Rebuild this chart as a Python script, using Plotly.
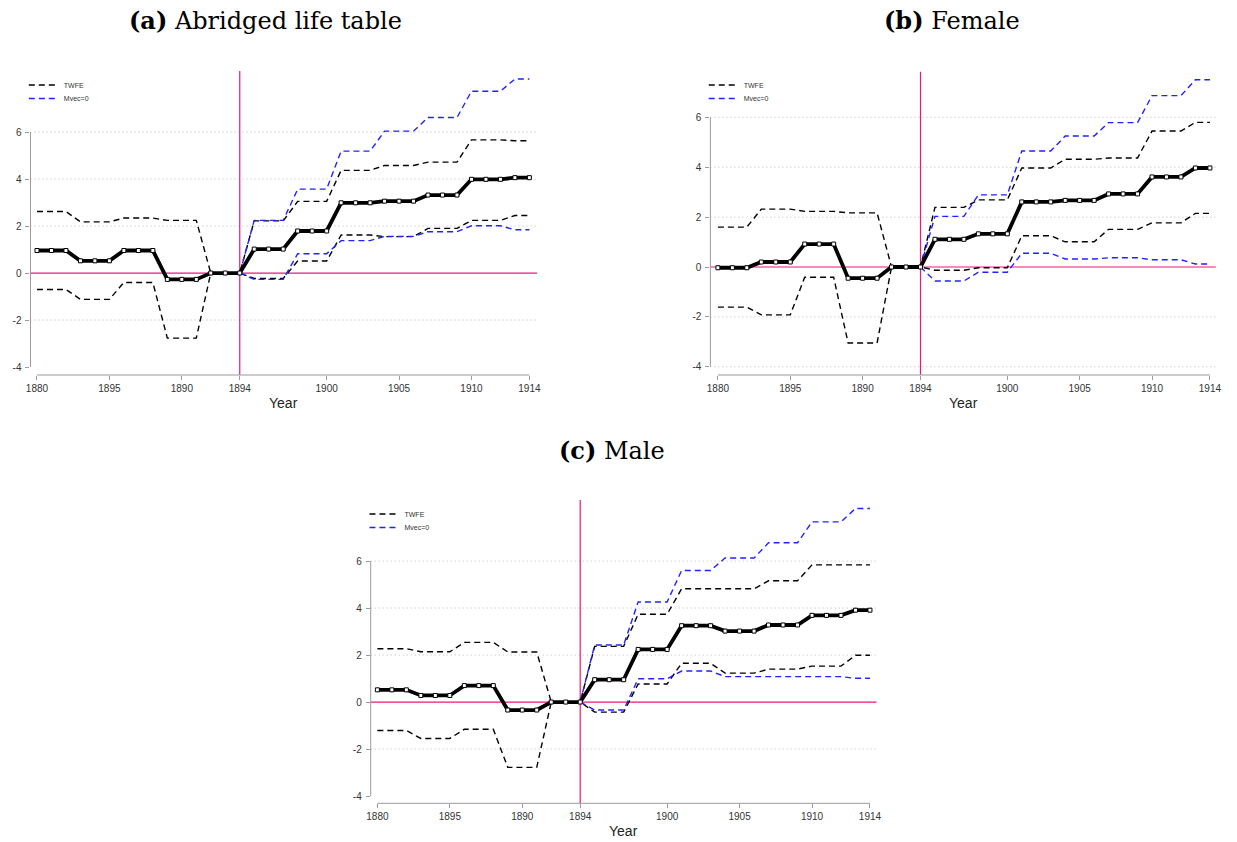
import plotly.graph_objects as go

W, H = 1237, 842

# ---------------- data ----------------
PERIOD = [0, 1, 2, 3, 4, 5, 6, 7, 8, 9, 10, 11, 12, 13, 14, 15, 16, 17, 18, 19,
          20, 21, 22, 23, 24, 25, 26, 27, 28, 29, 30, 31, 32, 33, 34]
MV_PERIOD = [14, 15, 16, 17, 18, 19, 20, 21, 22, 23, 24, 25, 26, 27, 28, 29, 30,
             31, 32, 33, 34]
TICK_POS = [0, 5, 10, 14, 20, 25, 30, 34]
TICK_LABELS = ["1880", "1895", "1890", "1894", "1900", "1905", "1910", "1914"]
Y_TICKS = [-4, -2, 0, 2, 4, 6]
Y_TICK_LABELS = ["-4", "-2", "0", "2", "4", "6"]
TREAT_PERIOD = 14
Y_AXIS_SPAN = [-4, 6]
LEGEND_NAMES = ["TWFE", "Mvec=0"]
X_TITLE = "Year"
TITLES = ["<b>(a)</b> Abridged life table", "<b>(b)</b> Female", "<b>(c)</b> Male"]

# (a) Abridged life table
A_EST = [0.96, 0.96, 0.96, 0.52, 0.52, 0.52, 0.96, 0.96, 0.96, -0.27, -0.27, -0.27,
         0, 0, 0, 1.02, 1.02, 1.02, 1.79, 1.79, 1.79, 2.99, 2.99, 2.99,
         3.06, 3.06, 3.06, 3.32, 3.32, 3.32, 3.99, 3.99, 3.99, 4.06, 4.06]
A_TW_HI = [2.62, 2.62, 2.62, 2.18, 2.18, 2.18, 2.34, 2.34, 2.34, 2.24, 2.24, 2.24,
           0, 0, 0, 2.22, 2.22, 2.22, 3.05, 3.05, 3.05, 4.37, 4.37, 4.37,
           4.58, 4.58, 4.58, 4.72, 4.72, 4.72, 5.67, 5.67, 5.67, 5.63, 5.63]
A_TW_LO = [-0.70, -0.70, -0.70, -1.12, -1.12, -1.12, -0.40, -0.40, -0.40, -2.77, -2.77, -2.77,
           0, 0, 0, -0.23, -0.23, -0.23, 0.51, 0.51, 0.51, 1.62, 1.62, 1.62,
           1.55, 1.55, 1.55, 1.90, 1.90, 1.90, 2.24, 2.24, 2.24, 2.45, 2.45]
A_MV_HI = [0, 2.24, 2.24, 2.24, 3.57, 3.57, 3.57, 5.19, 5.19, 5.19, 6.04, 6.04, 6.04,
           6.62, 6.62, 6.62, 7.74, 7.74, 7.74, 8.26, 8.26]
A_MV_LO = [0, -0.27, -0.27, -0.27, 0.82, 0.82, 0.82, 1.38, 1.38, 1.38, 1.56, 1.56, 1.56,
           1.76, 1.76, 1.76, 2.01, 2.01, 2.01, 1.84, 1.84]

# (b) Female
B_EST = [-0.03, -0.03, -0.03, 0.20, 0.20, 0.20, 0.92, 0.92, 0.92, -0.45, -0.45, -0.45,
         0, 0, 0, 1.11, 1.11, 1.11, 1.33, 1.33, 1.33, 2.61, 2.61, 2.61,
         2.67, 2.67, 2.67, 2.93, 2.93, 2.93, 3.61, 3.61, 3.61, 3.97, 3.97]
B_TW_HI = [1.60, 1.60, 1.60, 2.32, 2.32, 2.32, 2.23, 2.23, 2.23, 2.17, 2.17, 2.17,
           0, 0, 0, 2.39, 2.39, 2.39, 2.69, 2.69, 2.69, 3.97, 3.97, 3.97,
           4.32, 4.32, 4.32, 4.37, 4.37, 4.37, 5.45, 5.45, 5.45, 5.80, 5.80]
B_TW_LO = [-1.61, -1.61, -1.61, -1.92, -1.92, -1.92, -0.41, -0.41, -0.41, -3.05, -3.05, -3.05,
           0, 0, 0, -0.13, -0.13, -0.13, -0.03, -0.03, -0.03, 1.25, 1.25, 1.25,
           1.01, 1.01, 1.01, 1.51, 1.51, 1.51, 1.77, 1.77, 1.77, 2.15, 2.15]
B_MV_HI = [0, 2.03, 2.03, 2.03, 2.89, 2.89, 2.89, 4.65, 4.65, 4.65, 5.25, 5.25, 5.25,
           5.79, 5.79, 5.79, 6.87, 6.87, 6.87, 7.51, 7.51]
B_MV_LO = [0, -0.56, -0.56, -0.56, -0.21, -0.21, -0.21, 0.55, 0.55, 0.55, 0.32, 0.32, 0.32,
           0.37, 0.37, 0.37, 0.29, 0.29, 0.29, 0.12, 0.12]

# (c) Male
C_EST = [0.52, 0.52, 0.52, 0.28, 0.28, 0.28, 0.70, 0.70, 0.70, -0.34, -0.34, -0.34,
         0, 0, 0, 0.95, 0.95, 0.95, 2.24, 2.24, 2.24, 3.25, 3.25, 3.25,
         3.02, 3.02, 3.02, 3.28, 3.28, 3.28, 3.69, 3.69, 3.69, 3.91, 3.91]
C_TW_HI = [2.27, 2.27, 2.27, 2.14, 2.14, 2.14, 2.54, 2.54, 2.54, 2.13, 2.13, 2.13,
           0, 0, 0, 2.37, 2.37, 2.37, 3.74, 3.74, 3.74, 4.82, 4.82, 4.82,
           4.82, 4.82, 4.82, 5.16, 5.16, 5.16, 5.84, 5.84, 5.84, 5.84, 5.84]
C_TW_LO = [-1.21, -1.21, -1.21, -1.55, -1.55, -1.55, -1.16, -1.16, -1.16, -2.78, -2.78, -2.78,
           0, 0, 0, -0.43, -0.43, -0.43, 0.77, 0.77, 0.77, 1.65, 1.65, 1.65,
           1.23, 1.23, 1.23, 1.40, 1.40, 1.40, 1.53, 1.53, 1.53, 1.99, 1.99]
C_MV_HI = [0, 2.43, 2.43, 2.43, 4.26, 4.26, 4.26, 5.60, 5.60, 5.60, 6.13, 6.13, 6.13,
           6.78, 6.78, 6.78, 7.67, 7.67, 7.67, 8.24, 8.24]
C_MV_LO = [0, -0.34, -0.34, -0.34, 0.99, 0.99, 0.99, 1.32, 1.32, 1.32, 1.08, 1.08, 1.08,
           1.08, 1.08, 1.08, 1.08, 1.08, 1.08, 1.01, 1.01]

# ---------------- styling / layout geometry ----------------
PINK = "#e8197d"
BLUE = "#2222ff"
AXIS_GRAY = "#9a9a9a"
GRID_GRAY = "#b8b8b8"
SANS = "Liberation Sans, Arial, sans-serif"
TICK_FONT = dict(family=SANS, size=10, color="#333333")
DASH = "6px,4px"
CI_WIDTH = 1.4

# plot-area boxes in px: (left, right, top, bottom)
BOXES = [(25.7, 537.0, 71.0, 375.0), (711.7, 1221.7, 71.7, 375.0), (369.0, 879.3, 500.0, 803.3)]
X_RANGES = [(-0.45, 34.54), (-0.52, 34.41), (-0.46, 34.45)]
Y_RANGES = [(-4.34, 8.60), (-4.33, 7.83), (-4.31, 8.60)]
GRID_VALUES = [[-2, 2, 4, 6], [-4, -2, 2, 4, 6], [-2, 2, 4, 6]]
TITLE_POS = [(263.0, 21.0), (956.0, 20.5), (612.5, 450.5)]
LEGEND_TEXT_POS = [(59.0, 85.0, 98.5), (745.0, 85.0, 98.5), (402.7, 514.0, 527.5)]
# legend ids per panel: (TWFE entry, Mvec=0 entry)
LEGEND_IDS = [("legend", "legend2"), ("legend3", "legend4"), ("legend5", "legend6")]

panels = [
    (A_EST, A_TW_HI, A_TW_LO, A_MV_HI, A_MV_LO),
    (B_EST, B_TW_HI, B_TW_LO, B_MV_HI, B_MV_LO),
    (C_EST, C_TW_HI, C_TW_LO, C_MV_HI, C_MV_LO),
]


def px_x(v):
    return v / W


def px_y(v):
    return 1 - v / H


fig = go.Figure()
shapes = []
annotations = []
layout = dict(
    width=W, height=H, margin=dict(l=0, r=0, t=0, b=0, pad=0),
    paper_bgcolor="white", plot_bgcolor="white", showlegend=True,
)

for i, (est, tw_hi, tw_lo, mv_hi, mv_lo) in enumerate(panels):
    n = "" if i == 0 else str(i + 1)
    xa, ya = "x" + n, "y" + n
    leg1, leg2 = LEGEND_IDS[i]

    fig.add_trace(go.Scatter(x=PERIOD, y=tw_hi, mode="lines", xaxis=xa, yaxis=ya,
                             line=dict(color="black", width=CI_WIDTH, dash=DASH),
                             name=LEGEND_NAMES[0], legend=leg1, showlegend=True))
    fig.add_trace(go.Scatter(x=PERIOD, y=tw_lo, mode="lines", xaxis=xa, yaxis=ya,
                             line=dict(color="black", width=CI_WIDTH, dash=DASH),
                             name=LEGEND_NAMES[0], legend=leg1, showlegend=False))
    fig.add_trace(go.Scatter(x=MV_PERIOD, y=mv_hi, mode="lines", xaxis=xa, yaxis=ya,
                             line=dict(color=BLUE, width=CI_WIDTH, dash=DASH),
                             name=LEGEND_NAMES[1], legend=leg2, showlegend=True))
    fig.add_trace(go.Scatter(x=MV_PERIOD, y=mv_lo, mode="lines", xaxis=xa, yaxis=ya,
                             line=dict(color=BLUE, width=CI_WIDTH, dash=DASH),
                             name=LEGEND_NAMES[1], legend=leg2, showlegend=False))
    fig.add_trace(go.Scatter(x=PERIOD, y=est, mode="lines+markers", xaxis=xa, yaxis=ya,
                             line=dict(color="black", width=3.8),
                             marker=dict(symbol="square", size=4, color="white",
                                         line=dict(color="black", width=1)),
                             legend=leg1, showlegend=False))

    left, right, top, bottom = BOXES[i]
    layout["xaxis" + n] = dict(
        domain=[px_x(left), px_x(right)], range=list(X_RANGES[i]), anchor=ya,
        showgrid=False, zeroline=False, showline=False,
        tickmode="array", tickvals=TICK_POS, ticktext=TICK_LABELS,
        ticks="outside", ticklen=4, tickwidth=1, tickcolor=AXIS_GRAY,
        tickfont=TICK_FONT, fixedrange=True,
    )
    layout["yaxis" + n] = dict(
        domain=[px_y(bottom), px_y(top)], range=list(Y_RANGES[i]), anchor=xa,
        showgrid=False, zeroline=False, showline=False,
        tickmode="array", tickvals=Y_TICKS, ticktext=Y_TICK_LABELS,
        ticks="outside", ticklen=4, tickwidth=1, tickcolor=AXIS_GRAY,
        tickfont=TICK_FONT, ticklabelstandoff=2, fixedrange=True,
    )

    for g in GRID_VALUES[i]:
        shapes.append(dict(type="line", xref=xa + " domain", yref=ya, x0=0, x1=1, y0=g, y1=g,
                           line=dict(color=GRID_GRAY, width=1, dash="1px,3px"), layer="below"))
    shapes.append(dict(type="line", xref=xa + " domain", yref=ya, x0=0, x1=1, y0=0, y1=0,
                       line=dict(color=PINK, width=1.2), layer="below"))
    shapes.append(dict(type="line", xref=xa, yref=ya + " domain", x0=TREAT_PERIOD, x1=TREAT_PERIOD,
                       y0=0, y1=1, line=dict(color=PINK, width=1.2), layer="below"))
    # axis lines (Stata style: y axis spans only the labelled range)
    shapes.append(dict(type="line", xref=xa + " domain", yref=ya, x0=0, x1=0,
                       y0=Y_AXIS_SPAN[0], y1=Y_AXIS_SPAN[1],
                       line=dict(color=AXIS_GRAY, width=1)))
    shapes.append(dict(type="line", xref=xa, yref=ya + " domain", x0=PERIOD[0], x1=PERIOD[-1],
                       y0=0, y1=0, line=dict(color=AXIS_GRAY, width=1)))

    tx, ty = TITLE_POS[i]
    annotations.append(dict(text=TITLES[i], xref="paper", yref="paper", x=px_x(tx), y=px_y(ty),
                            xanchor="center", yanchor="middle", showarrow=False,
                            font=dict(family="DejaVu Serif, Liberation Serif, serif", size=24,
                                      color="black")))
    annotations.append(dict(text=X_TITLE, xref="paper", yref="paper",
                            x=px_x((left + right) / 2), y=px_y(bottom + 28),
                            xanchor="center", yanchor="middle", showarrow=False,
                            font=dict(family=SANS, size=14, color="#222222")))

    lx, ly1, ly2 = LEGEND_TEXT_POS[i]
    for leg, ly in ((leg1, ly1), (leg2, ly2)):
        layout[leg] = dict(
            x=px_x(lx - 40), y=px_y(ly), xanchor="left", yanchor="middle",
            xref="paper", yref="paper", bgcolor="rgba(0,0,0,0)", borderwidth=0,
            font=dict(family=SANS, size=7, color="#333333"),
            itemclick=False, itemdoubleclick=False,
        )

layout["shapes"] = shapes
layout["annotations"] = annotations
fig.update_layout(**layout)
fig.write_html("out.html")
